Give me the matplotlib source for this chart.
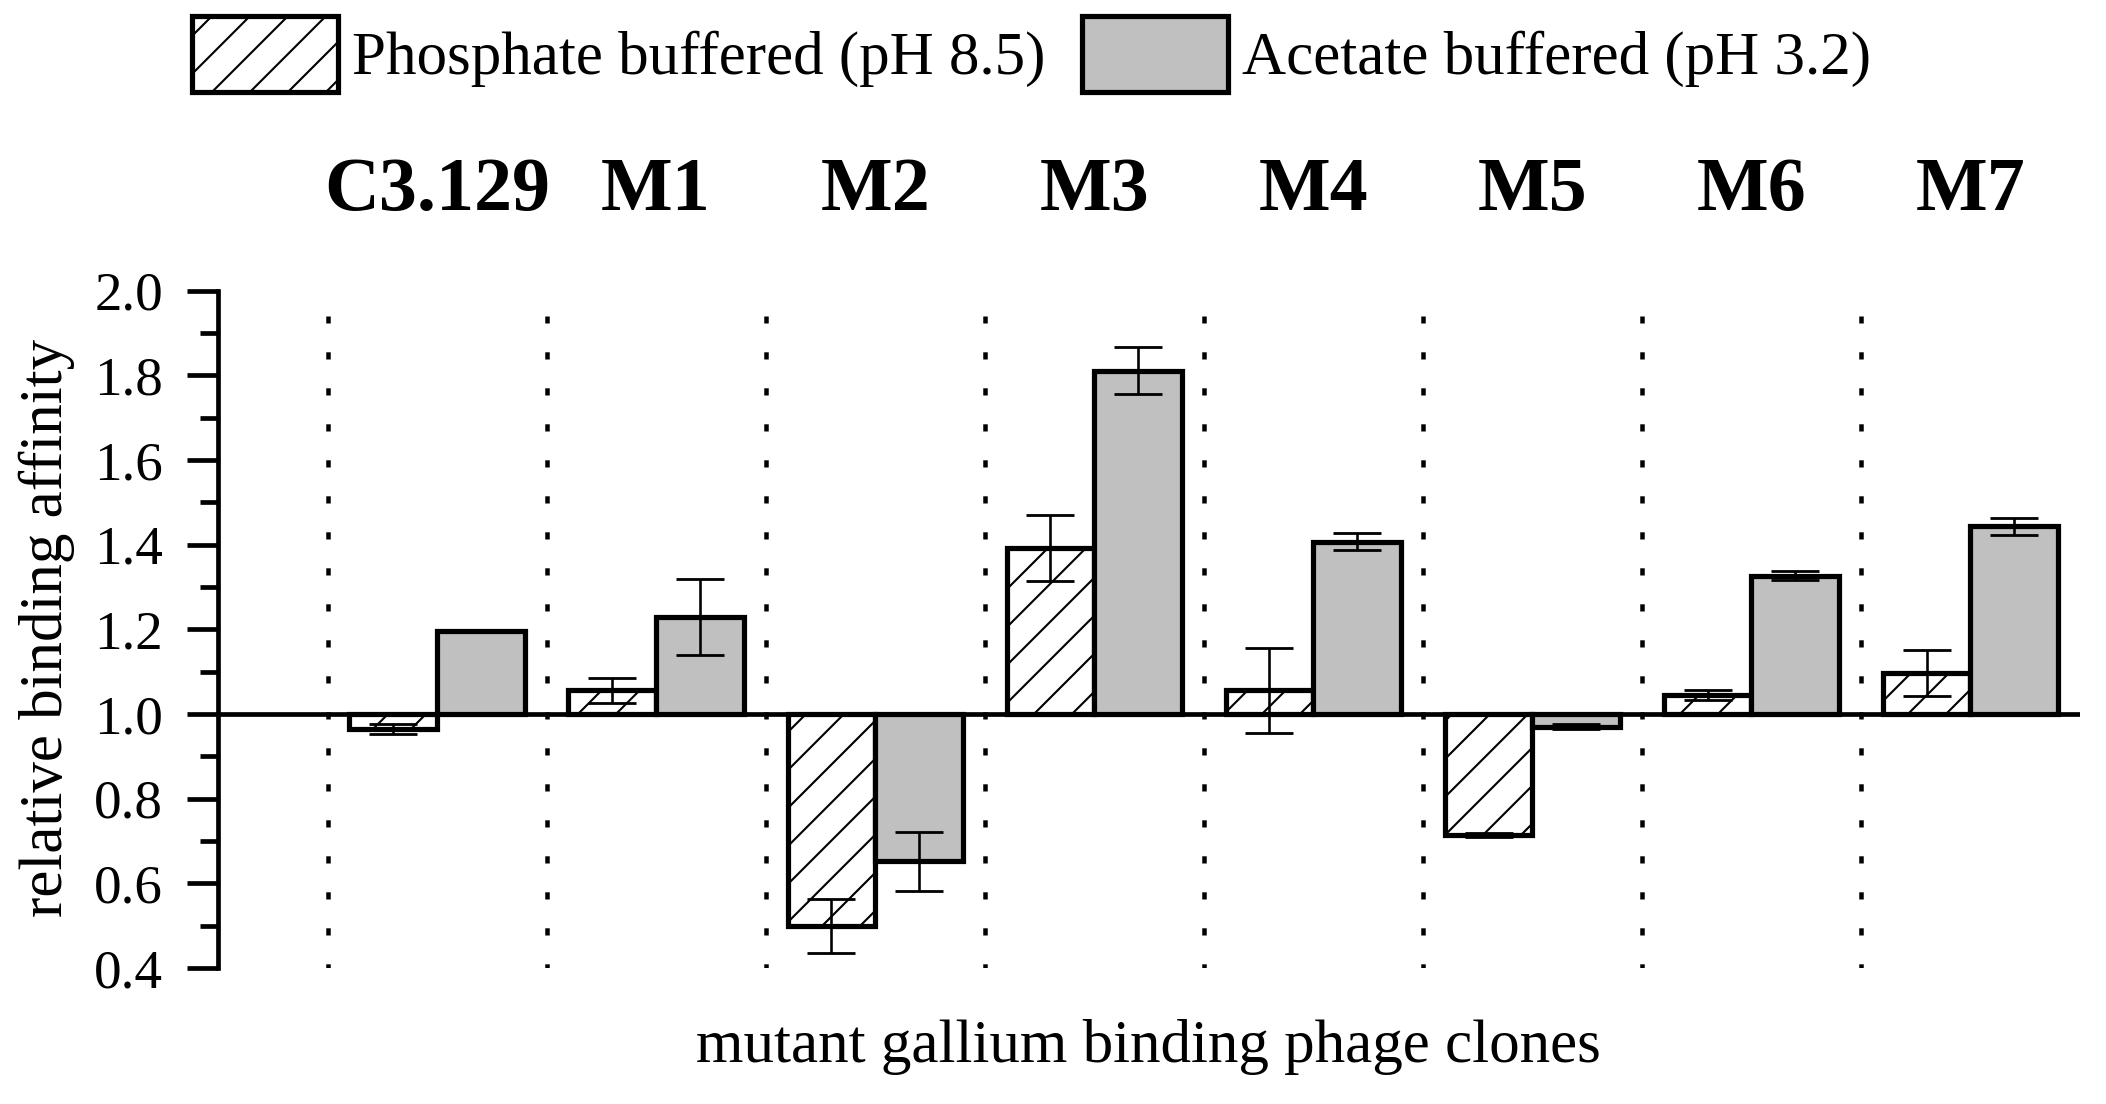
import matplotlib
matplotlib.use("Agg")
import matplotlib.pyplot as plt
import numpy as np
from matplotlib.patches import Patch
from matplotlib.ticker import MultipleLocator
from matplotlib.transforms import blended_transform_factory

# ---------------- data ----------------
clones = ["C3.129", "M1", "M2", "M3", "M4", "M5", "M6", "M7"]
phosphate = [0.965, 1.056, 0.500, 1.392, 1.056, 0.715, 1.044, 1.097]
phosphate_err = [0.012, 0.030, 0.064, 0.077, 0.100, 0.005, 0.012, 0.055]
acetate = [1.197, 1.229, 0.652, 1.811, 1.407, 0.970, 1.327, 1.443]
acetate_err = [0.0, 0.090, 0.069, 0.055, 0.020, 0.006, 0.010, 0.019]
series_labels = ["Phosphate buffered (pH 8.5)", "Acetate buffered (pH 3.2)"]
y_ticks = [0.4, 0.6, 0.8, 1.0, 1.2, 1.4, 1.6, 1.8, 2.0]
baseline = 1.0
ylabel = "relative binding affinity"
xlabel = "mutant gallium binding phage clones"

# ---------------- style ----------------
W, H = 2106, 1104
DPI = 228


def px(v):
    """pixels -> points at the output dpi"""
    return v * 72.0 / DPI


plt.rcParams["font.family"] = ["Liberation Serif", "DejaVu Serif"]
plt.rcParams["hatch.linewidth"] = px(2.1)
plt.rcParams["hatch.color"] = "black"

fig = plt.figure(figsize=(W / DPI, H / DPI), dpi=DPI)
ax = fig.add_axes([218 / W, 1 - 968 / H, (2080 - 218) / W, (968 - 290.7) / H])

x = np.arange(len(clones))
w = 0.4
gray = "#c0c0c0"
edge_lw = px(5.2)
axis_lw = px(4.7)
err_kw = dict(ecolor="black", elinewidth=px(2.6), capsize=px(24), capthick=px(2.8))

ax.bar(x - w / 2, np.array(phosphate) - baseline, width=w, bottom=baseline,
       color="white", edgecolor="black", hatch="//", linewidth=edge_lw,
       yerr=phosphate_err, error_kw=err_kw, zorder=2)
ax.bar(x + w / 2, np.array(acetate) - baseline, width=w, bottom=baseline,
       color=gray, edgecolor="black", linewidth=edge_lw,
       yerr=acetate_err, error_kw=err_kw, zorder=2)

# dotted group separators
ax.vlines(x - 0.5, 0.392, 1.94, colors="black", linewidth=px(4.5),
          linestyles=[(0, (1.6, 6.4))], zorder=1)

# reference line at 1.0
ax.axhline(baseline, color="black", linewidth=axis_lw, zorder=3)

ax.set_xlim(-1.0, 7.5)
ax.set_ylim(0.4, 2.0)
for s in ["top", "right", "bottom"]:
    ax.spines[s].set_visible(False)
ax.spines["left"].set_linewidth(axis_lw)
ax.set_xticks([])
ax.set_yticks(y_ticks)
ax.set_yticklabels([f"{v:.1f}" for v in y_ticks])
ax.yaxis.set_minor_locator(MultipleLocator(0.1))
ax.tick_params(axis="y", which="major", length=px(31), width=axis_lw,
               pad=px(24), labelsize=px(55))
ax.tick_params(axis="y", which="minor", length=px(18), width=axis_lw)

# clone names above the plot
trans = blended_transform_factory(ax.transData, fig.transFigure)
for xi, name in zip(x, clones):
    ax.text(xi, 1 - 210 / H, name, transform=trans, ha="center", va="baseline",
            fontsize=px(76), fontweight="bold")

fig.text(62 / W, 1 - 627.5 / H, ylabel, rotation=90, rotation_mode="anchor",
         ha="center", va="baseline", fontsize=px(61))
fig.text(1148.5 / W, 1 - 1062 / H, xlabel, ha="center", va="baseline",
         fontsize=px(61))

handles = [Patch(facecolor="white", edgecolor="black", hatch="//", linewidth=edge_lw),
           Patch(facecolor=gray, edgecolor="black", linewidth=edge_lw)]
fig.legend(handles, series_labels, loc="upper left",
           bbox_to_anchor=(192 / W, 1 - 16 / H), ncol=2, frameon=False,
           fontsize=px(61), handlelength=2.39, handleheight=1.54,
           handletextpad=0.23, columnspacing=0.6, borderpad=0,
           borderaxespad=0)

fig.savefig("out.png", dpi=DPI)
